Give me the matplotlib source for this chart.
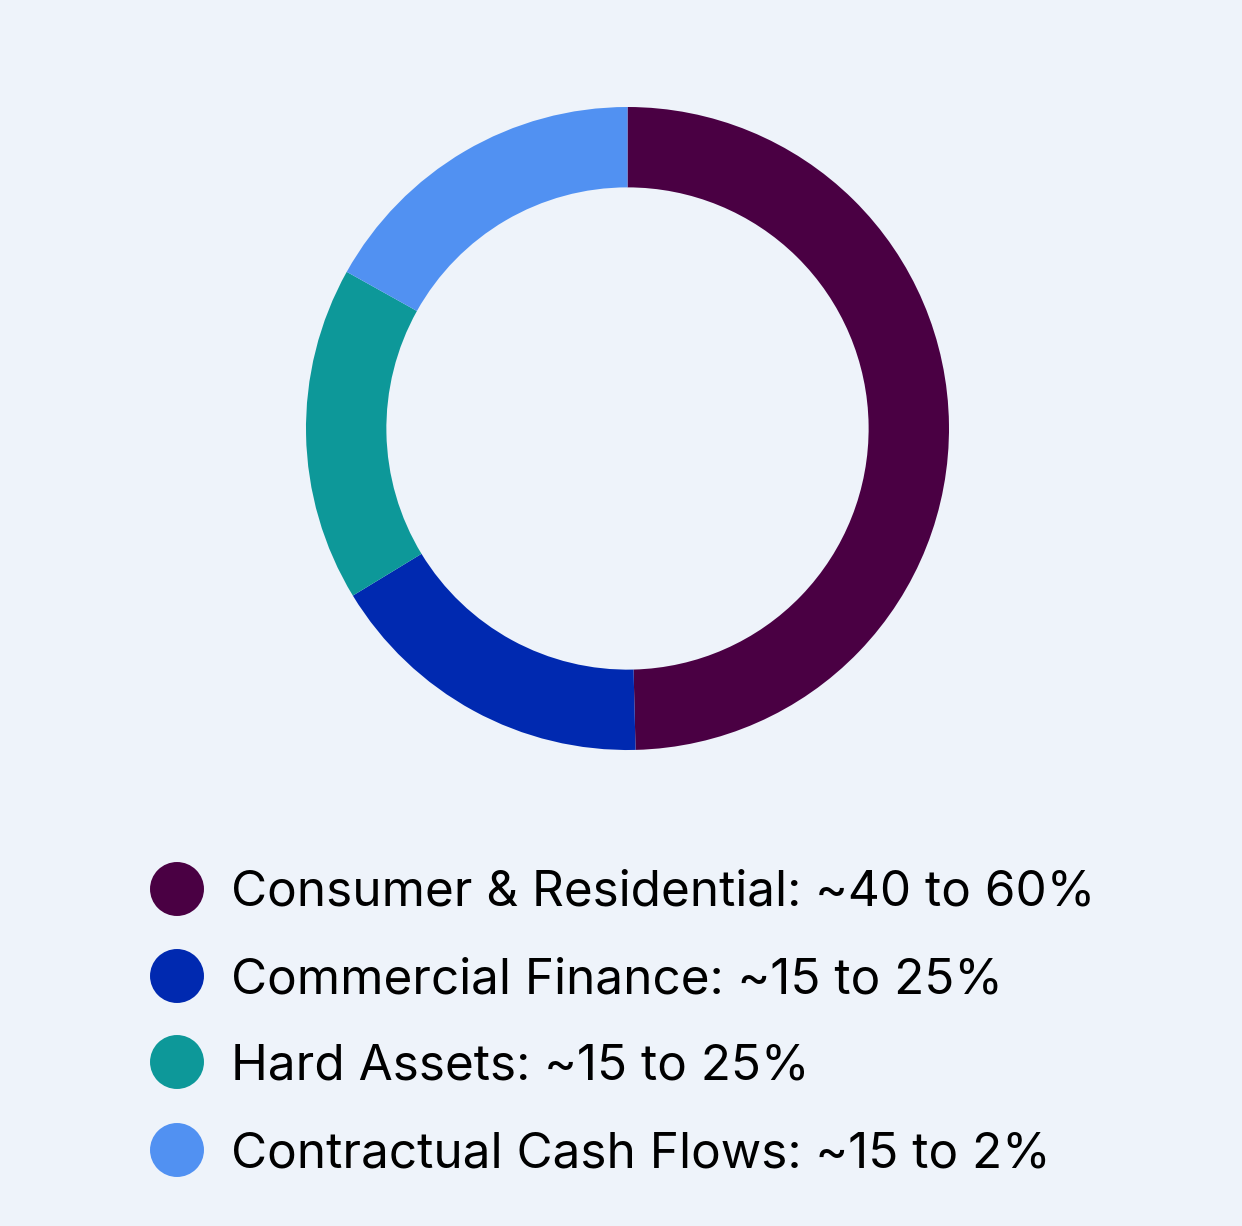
import matplotlib.pyplot as plt

# segment shares (clockwise from 12 o'clock)
labels = ['Consumer & Residential: ~40 to 60%',
          'Commercial Finance: ~15 to 25%',
          'Hard Assets: ~15 to 25%',
          'Contractual Cash Flows: ~15 to 2%']
shares = [49.6, 16.7, 16.8, 16.9]
colors = ['#4A0043', '#0029B0', '#0D9899', '#5191F2']
bg = '#EEF3FA'

W, H = 1242, 1226
fig = plt.figure(figsize=(W / 100, H / 100), dpi=100, facecolor=bg)

# donut: centre (627, 428) px, outer radius 321 px
cx, cy, r = 627.5, 428.5, 321.5
ax = fig.add_axes([(cx - r) / W, (H - cy - r) / H, 2 * r / W, 2 * r / H])
ax.pie(shares, colors=colors, startangle=90, counterclock=False,
       radius=1, wedgeprops=dict(width=0.25, edgecolor='none'))
ax.set_xlim(-1, 1)
ax.set_ylim(-1, 1)
ax.set_aspect('equal')
ax.axis('off')

# legend drawn in pixel space
lg = fig.add_axes([0, 0, 1, 1])
lg.set_xlim(0, W)
lg.set_ylim(H, 0)
lg.axis('off')
rows_y = [889, 976, 1062, 1150]
for lab, col, y in zip(labels, colors, rows_y):
    lg.scatter(177, y, s=1510, color=col, edgecolors='none')
    lg.text(231, y + 4, lab, fontsize=35.6, family=['Inter', 'DejaVu Sans'],
            va='center', ha='left', color='#000000')

fig.savefig('out.png', dpi=100, facecolor=bg)
